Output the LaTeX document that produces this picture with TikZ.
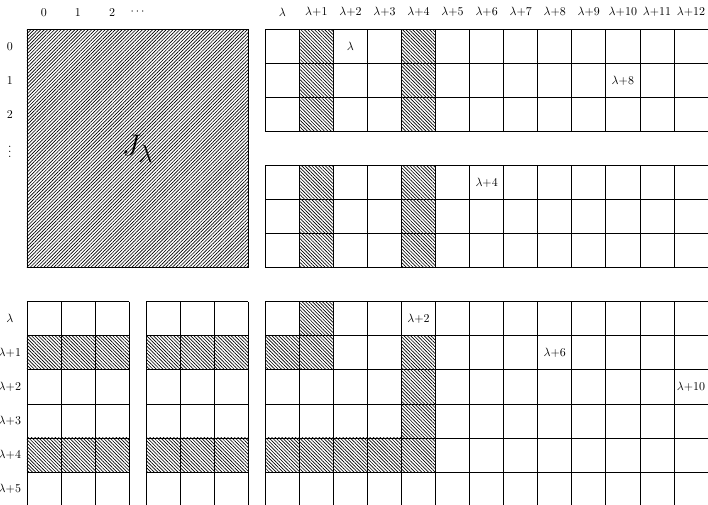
\documentclass[tikz,border=0pt]{standalone}
\usetikzlibrary{patterns.meta}
\tikzset{
  gridline/.style = {draw=black, semithick},
  hatch/.style = {pattern={Lines[angle=-45, distance=2pt, line width=0.55pt]}},
  bighatch/.style = {pattern={Lines[angle=45, distance=2pt, line width=0.55pt]}},
  idx/.style = {font=\normalsize, inner sep=0pt},
  entry/.style = {font=\normalsize, inner sep=0pt}
}

\begin{document}
\begin{tikzpicture}
  \useasboundingbox (-0.79,0.86) rectangle (20,-13.94);
  \clip (-0.79,0.86) rectangle (20,-13.94);

  % the block J_lambda
  \fill[bighatch] (0,-7) rectangle (6.5,0);
  \draw[gridline] (0,-7) rectangle (6.5,0);
  \node[font=\Huge] (J) at (3.25,-3.5) {$J_\lambda$};

  % hatched columns, upper right
  \foreach \c in {1,4} {
    \fill[hatch] (7+\c,-3) rectangle ++(1,3);
    \fill[hatch] (7+\c,-7) rectangle ++(1,3);
  }
  % hatched rows, lower left
  \foreach \r in {1,4} {
    \fill[hatch] (0,-9-\r) rectangle ++(3,1);
    \fill[hatch] (3.5,-9-\r) rectangle ++(3,1);
  }
  % hatched cells, lower right
  \fill[hatch] (8,-10) rectangle ++(1,2);
  \fill[hatch] (7,-10) rectangle ++(1,1);
  \fill[hatch] (11,-13) rectangle ++(1,4);
  \fill[hatch] (7,-13) rectangle ++(4,1);

  % grids
  \draw[gridline] (7,-3) grid (20,0);
  \draw[gridline] (7,-7) grid (20,-4);
  \draw[gridline] (0,-14) grid (3,-8);
  \begin{scope}[xshift=3.5cm]
    \draw[gridline] (0,-14) grid (3,-8);
  \end{scope}
  \draw[gridline] (7,-14) grid (20,-8);

  % indices
  \foreach \i in {0,1,2} {
    \node[idx] (top\i) at (\i+0.5,0.5) {$\i$};
    \node[idx] (left\i) at (-0.5,-\i-0.5) {$\i$};
  }
  \node[idx] (topdots) at (3.25,0.5) {$\cdots$};
  \node[idx] (leftdots) at (-0.5,-3.5) {$\vdots$};
  \node[idx] (col0) at (7.5,0.5) {$\lambda$};
  \foreach \k in {1,...,12}
    \node[idx] (col\k) at (7.5+\k,0.5) {$\lambda{+}\k$};
  \node[idx] (row0) at (-0.5,-8.5) {$\lambda$};
  \foreach \k in {1,...,5}
    \node[idx] (row\k) at (-0.5,-8.5-\k) {$\lambda{+}\k$};

  % entries
  \node[entry] (a) at (9.5,-0.5)   {$\lambda$};
  \node[entry] (b) at (17.5,-1.5)  {$\lambda{+}8$};
  \node[entry] (c) at (13.5,-4.5)  {$\lambda{+}4$};
  \node[entry] (d) at (11.5,-8.5)  {$\lambda{+}2$};
  \node[entry] (e) at (15.5,-9.5)  {$\lambda{+}6$};
  \node[entry] (f) at (19.5,-10.5) {$\lambda{+}10$};
\end{tikzpicture}
\end{document}
